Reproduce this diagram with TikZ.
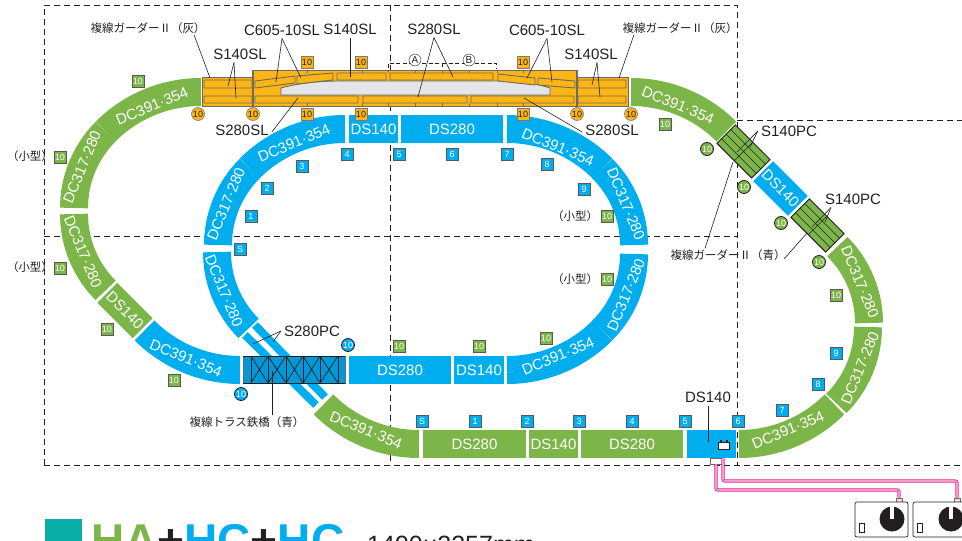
\documentclass[tikz,border=0pt]{standalone}
\usepackage{fontspec}
\setmainfont{Liberation Sans}
\newfontfamily\jpfont{Noto Sans CJK JP}
\usetikzlibrary{calc}
\definecolor{trackgreen}{HTML}{7CB548}
\definecolor{trackblue}{HTML}{00AEEF}
\definecolor{trussblue}{HTML}{0098D8}
\definecolor{girderorange}{HTML}{FDB515}
\definecolor{inkdark}{HTML}{231F20}
\definecolor{framegray}{HTML}{6B6B60}
\definecolor{platformgray}{HTML}{E4E5E7}
\definecolor{wirepink}{HTML}{EC1C8E}
\definecolor{titleteal}{HTML}{0AAFA8}
\tikzset{
    greencurve/.style={draw=trackgreen,line width=28pt},
    bluecurve/.style={draw=trackblue,line width=28pt},
    straightgreen/.style={fill=trackgreen,text=white,minimum height=28pt,inner sep=0pt,font=\fontsize{15}{15}\selectfont},
    straightblue/.style={fill=trackblue,text=white,minimum height=28pt,inner sep=0pt,font=\fontsize{15}{15}\selectfont},
    curvelabel/.style={text=white,inner sep=0pt,font=\fontsize{15}{15}\selectfont},
    partlabel/.style={text=inkdark,inner sep=3pt,font=\fontsize{15}{15}\selectfont},
    jplabel/.style={text=inkdark,inner sep=1pt,font=\jpfont\fontsize{11.5}{11.5}\selectfont},
    leader/.style={draw=inkdark,line width=0.6pt},
    gridline/.style={draw=inkdark,line width=0.9pt,dash pattern=on 6pt off 4pt},
    stationbar/.style={draw=framegray,fill=girderorange,line width=0.9pt,rounded corners=0.5pt},
    wire/.style={draw=wirepink,line width=0.8pt,double=wirepink!45,double distance=1.6pt,rounded corners=2pt},
    girderpc/.pic={
        \draw[draw=inkdark,fill=trackgreen,line width=0.9pt] (-24.5,-13) rectangle (24.5,13);
        \draw[draw=inkdark,line width=0.6pt] (-24.5,-6.5) -- (24.5,-6.5) (-24.5,0) -- (24.5,0) (-24.5,6.5) -- (24.5,6.5) (0,-13) -- (0,13);
    }
}
\begin{document}
\begin{tikzpicture}[x=1pt,y=-1pt]
    \useasboundingbox (0,0) rectangle (962,541);
    \clip (0,0) rectangle (962,541);
    % board grid
    \draw[gridline] (44,465) -- (44,5) -- (737,5) -- (737,465);
    \draw[gridline] (44,465) -- (962,465);
    \draw[gridline] (44,236) -- (737,236);
    \draw[gridline] (737,120) -- (962,120);
    \draw[gridline] (390,5) -- (390,465);
    % outer loop, curves
    \draw[greencurve] (201,92) arc[start angle=-90,end angle=-135,radius=135];
    \draw[greencurve] (74,208) arc[start angle=180,end angle=225,radius=108];
    \draw[greencurve] (74,214) arc[start angle=180,end angle=135,radius=108];
    \draw[greencurve] (419,444) arc[start angle=90,end angle=135,radius=135];
    \draw[greencurve] (739,444) arc[start angle=90,end angle=45,radius=135];
    \draw[greencurve] (868,327) arc[start angle=0,end angle=45,radius=108];
    \draw[greencurve] (869,323) arc[start angle=0,end angle=-45,radius=108];
    \draw[greencurve] (631,92) arc[start angle=-90,end angle=-45,radius=135];
    % inner loop, curves
    \draw[bluecurve] (240,370) arc[start angle=90,end angle=135,radius=135];
    \draw[bluecurve] (217,252) arc[start angle=180,end angle=135,radius=108];
    \draw[bluecurve] (218,245) arc[start angle=180,end angle=225,radius=108];
    \draw[bluecurve] (345,129) arc[start angle=-90,end angle=-135,radius=135];
    \draw[bluecurve] (507,129) arc[start angle=-90,end angle=-45,radius=135];
    \draw[bluecurve] (634,245) arc[start angle=0,end angle=-45,radius=108];
    \draw[bluecurve] (634,254) arc[start angle=0,end angle=45,radius=108];
    \draw[bluecurve] (507,370) arc[start angle=90,end angle=45,radius=135];
    % crossing strips under the truss
    \draw[trackblue,line width=8pt] (255,325) -- (325,397);
    \draw[trackblue,line width=8pt] (245,335) -- (316,405);
    % truss
    \draw[fill=trussblue,draw=framegray,line width=0.5pt] (243,356) rectangle (345,383);
    \draw[inkdark,line width=0.7pt] (251,356) -- (251,383) (268,356) -- (268,383) (286,356) -- (286,383) (303,356) -- (303,383) (320,356) -- (320,383) (338,356) -- (338,383);
    \draw[inkdark,line width=0.7pt] (251,356) -- (268,383) (268,356) -- (251,383) (268,356) -- (286,383) (286,356) -- (268,383) (286,356) -- (303,383) (303,356) -- (286,383) (303,356) -- (320,383) (320,356) -- (303,383) (320,356) -- (338,383) (338,356) -- (320,383);
    \draw[inkdark,line width=1pt] (243,356) -- (345,356) (243,383) -- (345,383);
    % curve labels
    \begin{scope}[every node/.style={curvelabel}]
        \node[rotate=22.5] (lg1) at (152,106) {DC391·354};
        \node[rotate=67.5] (lg2) at (82,167) {DC317·280};
        \node[rotate=-67.5] (lg3) at (83,252) {DC317·280};
        \node[rotate=-22.5] (lg4) at (366,430) {DC391·354};
        \node[rotate=22.5] (lg5) at (788,430) {DC391·354};
        \node[rotate=67.5] (lg6) at (860,368) {DC317·280};
        \node[rotate=-67.5] (lg7) at (860,282) {DC317·280};
        \node[rotate=-22.5] (lg8) at (678,105) {DC391·354};
        \node[rotate=-22.5] (lb1) at (186,358) {DC391·354};
        \node[rotate=-67.5] (lb2) at (224,291) {DC317·280};
        \node[rotate=67.5] (lb3) at (226,204) {DC317·280};
        \node[rotate=22.5] (lb4) at (294,143) {DC391·354};
        \node[rotate=-22.5] (lb5) at (558,147) {DC391·354};
        \node[rotate=-67.5] (lb6) at (626,204) {DC317·280};
        \node[rotate=67.5] (lb7) at (626,295) {DC317·280};
        \node[rotate=22.5] (lb8) at (558,356) {DC391·354};
    \end{scope}
    % straight tracks
    \node[straightblue,minimum width=49pt] (ds1) at (373.5,129) {DS140};
    \node[straightblue,minimum width=102pt] (ds2) at (452,129) {DS280};
    \node[straightblue,minimum width=102pt] (ds3) at (400,370) {DS280};
    \node[straightblue,minimum width=50pt] (ds4) at (479,370) {DS140};
    \node[straightgreen,minimum width=103pt] (ds5) at (474.5,444) {DS280};
    \node[straightgreen,minimum width=49pt] (ds6) at (553.5,444) {DS140};
    \node[straightgreen,minimum width=102pt] (ds7) at (632,444) {DS280};
    \node[straightblue,minimum width=49pt] (ds8) at (711.5,444) {};
    \node[straightgreen,minimum width=50pt,rotate=-45] (ds9) at (125,310.5) {DS140};
    \node[straightblue,minimum width=49pt,rotate=-45] (ds10) at (780.5,188.5) {DS140};
    % double track girders
    \pic[rotate=-45] at (743.5,151.5) {girderpc};
    \pic[rotate=-45] at (817.5,225.5) {girderpc};
    % station
    \draw[draw=framegray,fill=girderorange,line width=0.9pt] (202,77) -- (253,77) -- (253,70) -- (577,70) -- (577,77) -- (628,77) -- (628,106) -- (202,106) -- cycle;
    \draw[draw=framegray,line width=1.1pt] (253,70) -- (253,106) (577,70) -- (577,106);
    \draw[draw=framegray,line width=0.8pt] (307,70) -- (307,73) (362,70) -- (362,73) (388,70) -- (388,73) (415,70) -- (415,73) (442,70) -- (442,73) (469,70) -- (469,73) (497,70) -- (497,73) (523,70) -- (523,73);
    \draw[draw=framegray,line width=0.8pt] (307,103) -- (307,106) (362,103) -- (362,106) (388,103) -- (388,106) (415,103) -- (415,106) (442,103) -- (442,106) (469,103) -- (469,106) (497,103) -- (497,106) (523,103) -- (523,106);
    \draw[draw=framegray,fill=platformgray,line width=0.9pt] (281,88) .. controls (295,84) and (315,81) .. (340,81) -- (497,81) .. controls (520,81) and (535,83) .. (550,88) -- (550,95) -- (281,95) -- cycle;
    \draw[stationbar] (204,80) rectangle (252,88);
    \draw[stationbar] (204,96) rectangle (252,103);
    \draw[stationbar] (578,80) rectangle (626,88);
    \draw[stationbar] (578,96) rectangle (626,103);
    \draw[stationbar] (255,96) rectangle (358,103);
    \draw[stationbar] (363,96) rectangle (467,103);
    \draw[stationbar] (471,96) rectangle (574,103);
    \draw[stationbar] (337,73) rectangle (386,80);
    \draw[stationbar] (390,73) rectangle (493,80);
    \draw[stationbar] (255,81) -- (295,76) -- (295,83) -- (255,88) -- cycle;
    \draw[stationbar] (297,76) -- (333,73) -- (333,80) -- (297,84) -- cycle;
    \draw[stationbar] (498,74) -- (535,78) -- (535,85) -- (498,81) -- cycle;
    \draw[stationbar] (538,78) -- (575,81) -- (575,88) -- (538,85) -- cycle;
    % section brackets
    \draw[leader,dash pattern=on 4pt off 2.5pt] (388,68) -- (388,63) -- (442,63) -- (442,68);
    \draw[leader,dash pattern=on 4pt off 2.5pt] (442,63) -- (496,63) -- (496,68);
    \node[circle,draw=inkdark,fill=white,line width=0.4pt,text=inkdark,minimum size=12pt,inner sep=0pt,font=\fontsize{10}{10}\selectfont] (seca) at (415,60) {A};
    \node[circle,draw=inkdark,fill=white,line width=0.4pt,text=inkdark,minimum size=12pt,inner sep=0pt,font=\fontsize{10}{10}\selectfont] (secb) at (469,60) {B};
    % part names
    \begin{scope}[every node/.style={partlabel}]
        \node (sl1) at (240,54) {S140SL};
        \node (cl1) at (282,30) {C605-10SL};
        \node (sl2) at (350,29) {S140SL};
        \node (sl3) at (434,29) {S280SL};
        \node (cl2) at (547,30) {C605-10SL};
        \node (sl4) at (591,54) {S140SL};
        \node (sl5) at (242,130) {S280SL};
        \node (sl6) at (612,130) {S280SL};
        \node (pc1) at (789,131) {S140PC};
        \node (pc2) at (853,199) {S140PC};
        \node (pc3) at (312,331) {S280PC};
        \node (dsfeed) at (708,397) {DS140};
    \end{scope}
    \begin{scope}[every node/.style={jplabel}]
        \node (gd1) at (148,28) {複線ガーダーⅡ（灰）};
        \node (gd2) at (680,28) {複線ガーダーⅡ（灰）};
        \node (gd3) at (728,255) {複線ガーダーⅡ（青）};
        \node (tr1) at (247,422) {複線トラス鉄橋（青）};
        \node (sm1) at (30,156) {（小型）};
        \node (sm2) at (30,267) {（小型）};
        \node (sm3) at (575,216) {（小型）};
        \node (sm4) at (575,279) {（小型）};
    \end{scope}
    % leader ends
    \coordinate (sl1a) at (228,86);
    \coordinate (sl1b) at (236,98);
    \coordinate (gd1a) at (210,78);
    \coordinate (cl1a) at (276,82);
    \coordinate (cl1b) at (301,78);
    \coordinate (sl2a) at (350,77);
    \coordinate (sl3a) at (418,97);
    \coordinate (sl3b) at (453,77);
    \coordinate (cl2a) at (527,78);
    \coordinate (cl2b) at (552,82);
    \coordinate (sl4a) at (592,85);
    \coordinate (sl4b) at (600,97);
    \coordinate (gd2a) at (619,78);
    \coordinate (sl5a) at (298,98);
    \coordinate (sl6a) at (524,98);
    \coordinate (pc1a) at (737,152);
    \coordinate (pc1b) at (750,147);
    \coordinate (pc2a) at (812,227);
    \coordinate (pc2b) at (825,222);
    \coordinate (gd3a) at (733,162);
    \coordinate (gd3b) at (807,233);
    \coordinate (pc3a) at (253,344);
    \coordinate (pc3b) at (273,342);
    \coordinate (tr1a) at (272,371);
    \coordinate (dsfeeda) at (708,442);
    \begin{scope}[every path/.style={leader}]
        \path ([xshift=-6pt]sl1.south) edge (sl1a);
        \path ([xshift=-6pt]sl1.south) edge (sl1b);
        \path ([xshift=46pt]gd1.south) edge (gd1a);
        \path (cl1.south) edge (cl1a);
        \path (cl1.south) edge (cl1b);
        \path (sl2.south) edge (sl2a);
        \path (sl3.south) edge (sl3a);
        \path (sl3.south) edge (sl3b);
        \path (cl2.south) edge (cl2a);
        \path (cl2.south) edge (cl2b);
        \path ([xshift=6pt]sl4.south) edge (sl4a);
        \path ([xshift=6pt]sl4.south) edge (sl4b);
        \path ([xshift=-46pt]gd2.south) edge (gd2a);
        \path ([yshift=-2pt]sl5.east) edge (sl5a);
        \path ([yshift=-2pt]sl6.west) edge (sl6a);
        \path (pc1.west) edge (pc1a);
        \path (pc1.west) edge (pc1b);
        \path ([xshift=-22pt]pc2.south) edge (pc2a);
        \path ([xshift=-22pt]pc2.south) edge (pc2b);
        \path ([xshift=-23pt]gd3.north) edge (gd3a);
        \path ([xshift=56pt,yshift=-4pt]gd3.center) edge (gd3b);
        \path (pc3.west) edge (pc3a);
        \path (pc3.west) edge (pc3b);
        \path ([xshift=25pt]tr1.north) edge (tr1a);
        \path (dsfeed.south) edge (dsfeeda);
    \end{scope}
    % green markers
    \begin{scope}[every node/.style={rectangle,draw=inkdark!75,fill=trackgreen,text=white,line width=0.8pt,minimum size=12pt,inner sep=0pt,font=\fontsize{9}{9}\selectfont}]
        \node (ga) at (138,81) {10};
        \node (gb) at (60,157) {10};
        \node (gc) at (60,268) {10};
        \node (gd) at (107,329) {10};
        \node (ge) at (174,380) {10};
        \node (gf) at (665,124) {10};
        \node (gg) at (836,295) {10};
        \node (gh) at (399,346) {10};
        \node (gi) at (479,346) {10};
        \node (gj) at (546,338) {10};
        \node (gk) at (607,216) {10};
        \node (gl) at (607,279) {10};
    \end{scope}
    % blue markers
    \begin{scope}[every node/.style={rectangle,draw=inkdark!75,fill=trackblue,text=white,line width=0.8pt,minimum size=12pt,inner sep=0pt,font=\fontsize{9}{9}\selectfont}]
        \node (bs) at (240,249) {S};
        \node (b1) at (251,216) {1};
        \node (b2) at (267,188) {2};
        \node (b3) at (302,166) {3};
        \node (b4) at (347,154) {4};
        \node (b5) at (399,154) {5};
        \node (b6) at (452,154) {6};
        \node (b7) at (507,154) {7};
        \node (b8) at (547,164) {8};
        \node (b9) at (584,189) {9};
        \node (os) at (422,421) {S};
        \node (o1) at (475,421) {1};
        \node (o2) at (527,421) {2};
        \node (o3) at (579,421) {3};
        \node (o4) at (632,421) {4};
        \node (o5) at (685,421) {5};
        \node (o6) at (738,421) {6};
        \node (o7) at (782,410) {7};
        \node (o8) at (818,384) {8};
        \node (o9) at (836,353) {9};
    \end{scope}
    % orange markers
    \begin{scope}[every node/.style={rectangle,draw=inkdark!60,fill=girderorange,text=inkdark,line width=0.6pt,minimum size=12pt,inner sep=0pt,font=\fontsize{9}{9}\selectfont}]
        \node (ya) at (307,62) {10};
        \node (yb) at (307,114) {10};
        \node (yc) at (361,62) {10};
        \node (yd) at (361,114) {10};
        \node (ye) at (523,62) {10};
        \node (yf) at (523,114) {10};
    \end{scope}
    \begin{scope}[every node/.style={circle,draw=inkdark!60,fill=girderorange,text=inkdark,line width=0.6pt,minimum size=13pt,inner sep=0pt,font=\fontsize{9}{9}\selectfont}]
        \node (yg) at (198,114) {10};
        \node (yh) at (253,114) {10};
        \node (yi) at (577,114) {10};
        \node (yj) at (631,114) {10};
    \end{scope}
    % round markers
    \begin{scope}[every node/.style={circle,draw=inkdark,fill=trackgreen,text=white,line width=0.8pt,minimum size=13pt,inner sep=0pt,font=\fontsize{9}{9}\selectfont}]
        \node (ca) at (707,149) {10};
        \node (cb) at (744,187) {10};
        \node (cc) at (781,223) {10};
        \node (cd) at (819,262) {10};
    \end{scope}
    \begin{scope}[every node/.style={circle,draw=inkdark,fill=trackblue,text=white,line width=0.8pt,minimum size=13pt,inner sep=0pt,font=\fontsize{9}{9}\selectfont}]
        \node (ce) at (348,345) {10};
        \node (cf) at (241,394) {10};
    \end{scope}
    % feeder and controllers
    \node[draw=framegray,fill=white,line width=0.7pt,minimum width=12pt,minimum height=6pt,inner sep=0pt] (feedbox) at (716,461) {};
    \node[draw=inkdark,fill=white,line width=0.9pt,minimum width=11pt,minimum height=7pt,inner sep=0pt] (batt) at (724,446) {};
    \draw[inkdark,line width=1.4pt] ([xshift=-3pt]batt.north) -- ++(0,-2);
    \draw[inkdark,line width=1.4pt] ([xshift=3pt]batt.north) -- ++(0,-2);
    \node[draw=framegray,fill=platformgray,line width=0.6pt,minimum width=6pt,minimum height=4pt,inner sep=0pt] (tabone) at (899,500) {};
    \node[draw=framegray,fill=platformgray,line width=0.6pt,minimum width=6pt,minimum height=4pt,inner sep=0pt] (tabtwo) at (957,500) {};
    \draw[wire] (feedbox.south) -- (716,490) -- (899,490) -- (tabone.north);
    \draw[wire] ([xshift=11.5pt]ds8.south) -- (723,481) -- (957,481) -- (tabtwo.north);
    \draw[draw=inkdark,fill=white,line width=0.7pt,rounded corners=2pt] (855,502) rectangle (908,537);
    \draw[draw=inkdark,fill=white,line width=0.7pt,rounded corners=2pt] (913,502) rectangle (975,537);
    \fill[inkdark] (892,519) circle[radius=12.5];
    \fill[inkdark] (951,519) circle[radius=12.5];
    \draw[white,line width=4pt] (892,506) -- (892,519);
    \draw[white,line width=4pt] (951,506) -- (951,519);
    \draw[draw=inkdark,fill=white,line width=0.7pt] (859,523) rectangle (864,532);
    \draw[draw=inkdark,fill=white,line width=0.7pt] (917,523) rectangle (922,532);
    % title
    \fill[titleteal] (45,519) rectangle (82,541);
    \node[anchor=base west,inner sep=0pt,font=\fontsize{46}{46}\selectfont\bfseries] (title) at (91,556) {\textcolor{trackgreen}{HA}\textcolor{inkdark}{+}\textcolor{trackblue}{HC}\textcolor{inkdark}{+}\textcolor{trackblue}{HC}};
    \node[anchor=base west,inner sep=0pt,text=inkdark,font=\fontsize{25}{25}\selectfont] (size) at (367,553) {1490×2257mm};
\end{tikzpicture}
\end{document}
